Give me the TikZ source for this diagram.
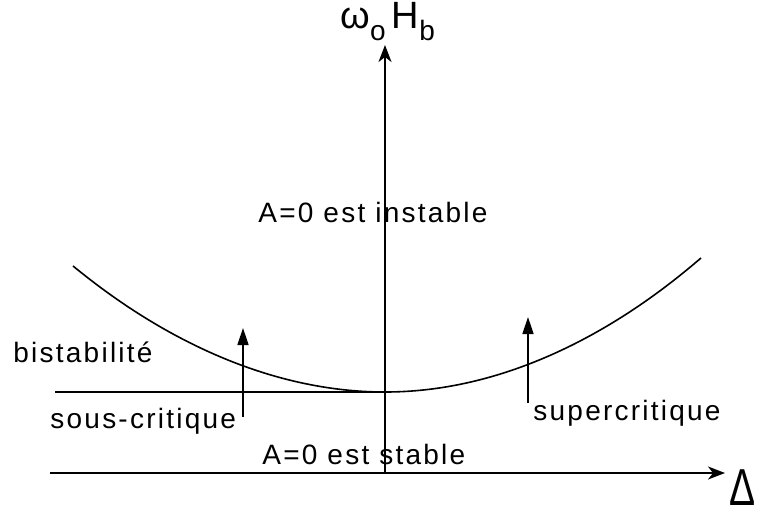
\documentclass[tikz,border=0pt]{standalone}
\usepackage{fontspec}
\setmainfont{Liberation Sans}
\newfontfamily\lblfont{Liberation Sans}[LetterSpace=8]
\usetikzlibrary{arrows.meta}

\tikzset{
  axis/.style={line width=0.8pt,-{Stealth[length=8.5pt,width=6.5pt,inset=2.5pt]}},
  trans/.style={line width=0.8pt,-{Triangle[length=8.5pt,width=5.5pt]}},
  lbl/.style={font=\lblfont\fontsize{14}{17}\selectfont,inner sep=0pt,anchor=base west},
}

\begin{document}
\begin{tikzpicture}[x=0.5pt,y=-0.5pt,line join=round]
  \useasboundingbox (0,0) rectangle (760,515);
  \coordinate (O) at (385,473);
  \coordinate (Xs) at (50,473);
  \coordinate (Xe) at (725,473);
  \coordinate (Ye) at (385,45);
  \coordinate (V) at (385,392);
  \coordinate (L) at (73,266);
  \coordinate (R) at (701,258);
  \coordinate (Bs) at (55,392);
  \coordinate (Be) at (388,392);
  \coordinate (S1) at (243,417);
  \coordinate (S1t) at (243,328);
  \coordinate (S2) at (528,403);
  \coordinate (S2t) at (528,317);
  % axes
  \draw[axis] (Xs) -- (Xe);
  \draw[axis] (O) -- (Ye);
  % bistable line and parabola
  \draw[line width=0.8pt] (Bs) -- (Be);
  \draw[line width=0.8pt] (L) parabola bend (V) (R);
  % transitions
  \draw[trans] (S1) -- (S1t);
  \draw[trans] (S2) -- (S2t);
  % labels
  \node[anchor=base west,inner sep=0pt,font=\fontsize{19}{23}\selectfont] (ylab) at (340,28)
    {ω\raisebox{-6pt}{\fontsize{14}{16}\selectfont o}\,H\raisebox{-6pt}{\fontsize{14}{16}\selectfont b}};
  \node[anchor=base west,inner sep=0pt,xscale=0.75,font=\fontsize{26}{30}\selectfont] (xlab) at (729,505) {Δ};
  \node[lbl] (inst) at (258,222) {A=0 est instable};
  \node[lbl] (stab) at (262,464) {A=0 est stable};
  \node[lbl] (bist) at (13,362) {bistabilité};
  \node[lbl] (sous) at (50,428) {sous-critique};
  \node[lbl] (super) at (533,420) {supercritique};
\end{tikzpicture}
\end{document}
